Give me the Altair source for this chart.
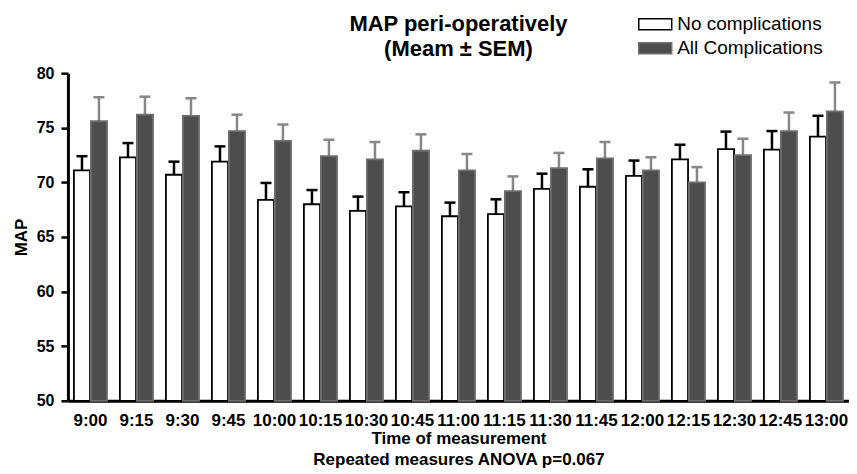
import altair as alt
import pandas as pd

times = ["9:00", "9:15", "9:30", "9:45", "10:00", "10:15", "10:30", "10:45", "11:00",
         "11:15", "11:30", "11:45", "12:00", "12:15", "12:30", "12:45", "13:00"]
groups = ["No complications", "All Complications"]
no_mean = [71.1, 72.3, 70.7, 71.9, 68.4, 68.0, 67.4, 67.8, 66.9, 67.1, 69.4, 69.6, 70.6, 72.1, 73.05, 73.0, 74.2]
no_sem = [1.3, 1.3, 1.2, 1.4, 1.55, 1.3, 1.3, 1.3, 1.25, 1.35, 1.4, 1.6, 1.4, 1.35, 1.6, 1.7, 1.9]
all_mean = [75.6, 76.2, 76.1, 74.7, 73.8, 72.4, 72.1, 72.9, 71.1, 69.2, 71.3, 72.2, 71.1, 70.0, 72.5, 74.7, 76.5]
all_sem = [2.2, 1.65, 1.6, 1.5, 1.5, 1.5, 1.6, 1.5, 1.5, 1.35, 1.4, 1.5, 1.2, 1.4, 1.5, 1.7, 2.65]
y_ticks = [50, 55, 60, 65, 70, 75, 80]

rows = []
for i, t in enumerate(times):
    rows.append({"time": t, "group": groups[0], "mean": no_mean[i], "upper": no_mean[i] + no_sem[i]})
    rows.append({"time": t, "group": groups[1], "mean": all_mean[i], "upper": all_mean[i] + all_sem[i]})
df = pd.DataFrame(rows)

FONT = "Liberation Sans"

x_enc = alt.X("time:N", sort=times,
              scale=alt.Scale(paddingInner=0.28, paddingOuter=0.13),
              axis=alt.Axis(labelAngle=0, ticks=False, labelFontSize=17, labelPadding=12,
                            labelOverlap=False, labelFontWeight="bold",
                            title=["Time of measurement", "Repeated measures ANOVA p=0.067"],
                            titleFontSize=17, titleLineHeight=21, titlePadding=2))
xo_enc = alt.XOffset("group:N", sort=groups, scale=alt.Scale(paddingInner=0.05))
y_scale = alt.Scale(domain=[50, 80], nice=False, zero=False)
y_axis = alt.Axis(values=y_ticks, tickSize=7, labelPadding=7, labelFontSize=16,
                  labelFontWeight="bold", title="MAP", titleFontSize=17, titlePadding=6)

legend_props = dict(title=None, orient="none", legendX=576, legendY=-61,
                    symbolType="M-1.5,-0.5H1.5V0.5H-1.5Z", symbolSize=484,
                    symbolStrokeWidth=1.5, labelFontSize=19, labelFont=FONT,
                    labelOffset=10, rowPadding=2, labelColor="black")

bars = alt.Chart(df).mark_bar(strokeWidth=1.8).encode(
    x=x_enc,
    xOffset=xo_enc,
    y=alt.Y("mean:Q", scale=y_scale, axis=y_axis),
    y2=alt.datum(50),
    fill=alt.Fill("group:N", sort=groups,
                  scale=alt.Scale(domain=groups, range=["white", "#4d4d4d"]),
                  legend=alt.Legend(**legend_props)),
    stroke=alt.Stroke("group:N", sort=groups,
                      scale=alt.Scale(domain=groups, range=["black", "#6e6e6e"]),
                      legend=alt.Legend(**legend_props)),
)

err_color = alt.condition(alt.datum.group == groups[0], alt.value("black"), alt.value("#878787"))

rules = alt.Chart(df).mark_rule(strokeWidth=2.5).encode(
    x=x_enc, xOffset=xo_enc,
    y=alt.Y("mean:Q", scale=y_scale, axis=y_axis),
    y2="upper:Q",
    color=err_color,
)
caps = alt.Chart(df).mark_tick(size=11, thickness=2.5, opacity=1).encode(
    x=x_enc, xOffset=xo_enc,
    y=alt.Y("upper:Q", scale=y_scale, axis=y_axis),
    color=err_color,
)

chart = alt.layer(rules, caps, bars).properties(
    width=782, height=328,
    title=alt.TitleParams(text=["MAP peri-operatively", "(Meam \u00b1 SEM)"], fontSize=22,
                          font=FONT, fontWeight="bold", lineHeight=25, anchor="middle",
                          offset=-49, color="black"),
    autosize=alt.AutoSizeParams(type="none"),
    padding={"left": 60, "top": 65, "right": 0, "bottom": 68},
).configure_view(stroke=None).configure_axis(
    grid=False, domainColor="black", domainWidth=3, tickColor="black", tickWidth=2.5,
    labelFont=FONT, titleFont=FONT, labelColor="black", titleColor="black",
    titleFontWeight="bold",
)

chart.save("out.html", embed_options={"renderer": "svg", "actions": False})
